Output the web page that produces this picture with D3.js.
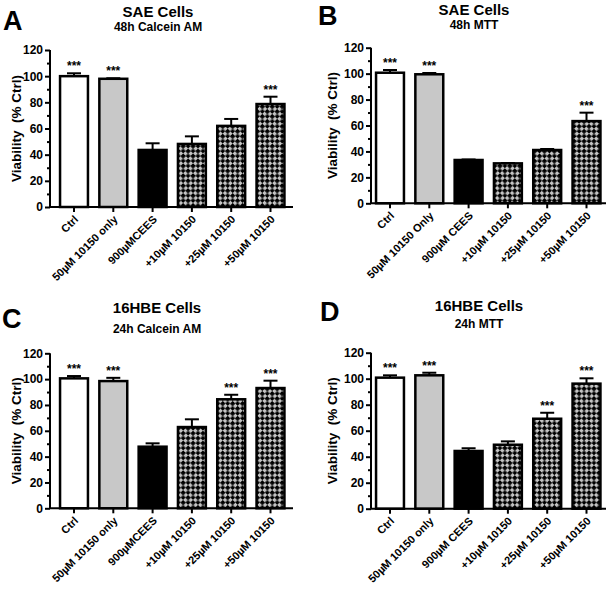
<!DOCTYPE html>
<html><head><meta charset="utf-8">
<script src="https://cdn.jsdelivr.net/npm/d3@7"></script>
<style>body{margin:0;background:#fff}svg{display:block;font-family:"Liberation Sans",Arial,sans-serif;font-weight:bold}</style>
</head><body>
<script>
// ---- data ----
const labelsAC = ["Ctrl","50\u00B5M 10150 only","900\u00B5MCEES","+10\u00B5M 10150","+25\u00B5M 10150","+50\u00B5M 10150"];
const labelsB = ["Ctrl","50\u00B5M 10150 Only","900\u00B5M CEES","+10\u00B5M 10150","+25\u00B5M 10150","+50\u00B5M 10150"];
const labelsD = ["Ctrl","50\u00B5M 10150 only","900\u00B5M CEES","+10\u00B5M 10150","+25\u00B5M 10150","+50\u00B5M 10150"];
const fills = ["white","gray","black","check","check","check"];
const valuesA = [100, 98, 43.6, 48.2, 62, 78.7];
const errorsA = [2.2, 0.4, 5.1, 5.8, 5.3, 5.6];
const starsA = [true, true, false, false, false, true];
const valuesB = [100.7, 99.5, 33.4, 30.8, 41.1, 63.4];
const errorsB = [2.1, 1.0, 0.4, 0.3, 0.8, 6.5];
const starsB = [true, true, false, false, false, true];
const valuesC = [100.6, 98.5, 47.7, 62.9, 84.4, 93.1];
const errorsC = [1.8, 2.5, 2.6, 6.0, 3.5, 5.7];
const starsC = [true, true, false, false, true, true];
const valuesD = [100.8, 102.6, 44.4, 49.2, 69.2, 96.2];
const errorsD = [1.8, 2.0, 2.1, 2.6, 4.6, 4.1];
const starsD = [true, true, false, false, true, true];
const yMajor = [0,20,40,60,80,100,120];
const yMinor = [10,30,50,70,90,110];
const yLabel = "Viability  (% Ctrl)";

const panels = [
  {letter:"A", title:"SAE Cells", sub:"48h Calcein AM", labels:labelsAC, values:valuesA, errors:errorsA, stars:starsA,
   ox:50, yTop:50, yBot:207, c0:74, xEnd:293, lx:3, ly:30, tx:158, ty:17, sy:31, ylx:16},
  {letter:"B", title:"SAE Cells", sub:"48h MTT", labels:labelsB, values:valuesB, errors:errorsB, stars:starsB,
   ox:371, yTop:47.7, yBot:203.3, c0:390, xEnd:606, lx:318, ly:25, tx:474, ty:15, sy:29, ylx:332},
  {letter:"C", title:"16HBE Cells", sub:"24h Calcein AM", labels:labelsAC, values:valuesC, errors:errorsC, stars:starsC,
   ox:50, yTop:353.3, yBot:508.3, c0:74, xEnd:293, lx:2, ly:328, tx:157, ty:313, sy:333, ylx:16},
  {letter:"D", title:"16HBE Cells", sub:"24h MTT", labels:labelsD, values:valuesD, errors:errorsD, stars:starsD,
   ox:371, yTop:352.7, yBot:508.7, c0:390, xEnd:606, lx:320, ly:321, tx:479, ty:311, sy:328, ylx:332}
];

const W = 608, H = 592, step = 39.3;
const svg = d3.select("body").append("svg").attr("width", W).attr("height", H);
const defs = svg.append("defs");
const pat = defs.append("pattern").attr("id","check").attr("patternUnits","userSpaceOnUse")
  .attr("width",7).attr("height",7).attr("patternTransform","rotate(45)");
pat.append("rect").attr("width",7).attr("height",7).attr("fill","#c4c4c4");
pat.append("rect").attr("width",3.8).attr("height",3.8).attr("fill","#000");
pat.append("rect").attr("x",3.5).attr("y",3.5).attr("width",3.8).attr("height",3.8).attr("fill","#000");
const fillMap = {white:"#ffffff", gray:"#c8c8c8", black:"#000000", check:"url(#check)"};

panels.forEach(p => {
  const g = svg.append("g");
  const y = d3.scaleLinear().domain([0,120]).range([p.yBot, p.yTop]);
  const x = d3.scaleBand().domain(p.labels)
    .range([p.c0 - step/2, p.c0 + 5.5*step]).paddingInner(0.29).paddingOuter(0.145);

  // bars
  g.selectAll("rect.bar").data(p.values).enter().append("rect")
    .attr("x", (d,i) => x(p.labels[i]))
    .attr("width", x.bandwidth())
    .attr("y", d => y(d))
    .attr("height", d => y(0) - y(d))
    .attr("fill", (d,i) => fillMap[fills[i]])
    .attr("stroke", "#000").attr("stroke-width", 2.5);

  // error bars (upper)
  p.values.forEach((v,i) => {
    const cx = x(p.labels[i]) + x.bandwidth()/2;
    const top = y(v + p.errors[i]);
    g.append("line").attr("x1",cx).attr("x2",cx).attr("y1",y(v)).attr("y2",top)
      .attr("stroke","#000").attr("stroke-width",2);
    g.append("line").attr("x1",cx-7).attr("x2",cx+7).attr("y1",top).attr("y2",top)
      .attr("stroke","#000").attr("stroke-width",2);
    if (p.stars[i]) {
      g.append("text").attr("x",cx).attr("y",top-3).attr("text-anchor","middle")
        .attr("font-size",12).text("***");
    }
  });

  // y axis
  const ya = g.append("g").attr("transform",`translate(${p.ox},0)`)
    .call(d3.axisLeft(y).tickValues(yMajor).tickSize(5).tickPadding(2).tickFormat(d3.format("d")));
  ya.select(".domain").attr("stroke-width",2).attr("d",`M0,${p.yTop}V${p.yBot}`);
  ya.selectAll(".tick line").attr("stroke-width",2);
  ya.selectAll(".tick text").attr("font-size",12).attr("font-weight","bold")
    .attr("font-family",'"Liberation Sans",Arial,sans-serif').attr("fill","#000");
  const ym = g.append("g").attr("transform",`translate(${p.ox},0)`)
    .call(d3.axisLeft(y).tickValues(yMinor).tickSize(3).tickFormat(""));
  ym.select(".domain").remove();
  ym.selectAll(".tick line").attr("stroke-width",2);

  // x axis
  const xa = g.append("g").attr("transform",`translate(0,${p.yBot})`)
    .call(d3.axisBottom(x).tickSize(5).tickFormat(""));
  xa.select(".domain").attr("stroke-width",2).attr("d",`M${p.ox},0H${p.xEnd}`);
  xa.selectAll(".tick line").attr("stroke-width",2);

  // rotated x labels
  p.labels.forEach((lab,i) => {
    const cx = x(lab) + x.bandwidth()/2;
    g.append("text").attr("text-anchor","end").attr("font-size",11)
      .attr("transform",`translate(${cx+5},${p.yBot+13}) rotate(-45)`).text(lab);
  });

  // y label
  g.append("text").attr("text-anchor","middle").attr("font-size",13.5).style("white-space","pre")
    .attr("transform",`translate(${p.ylx+5},${(p.yTop+p.yBot)/2}) rotate(-90)`).text(yLabel);

  // titles
  g.append("text").attr("x",p.lx).attr("y",p.ly).attr("font-size",27).text(p.letter);
  g.append("text").attr("x",p.tx).attr("y",p.ty).attr("text-anchor","middle").attr("font-size",15).text(p.title);
  g.append("text").attr("x",p.tx).attr("y",p.sy).attr("text-anchor","middle").attr("font-size",12).text(p.sub);
});
</script>
</body></html>
